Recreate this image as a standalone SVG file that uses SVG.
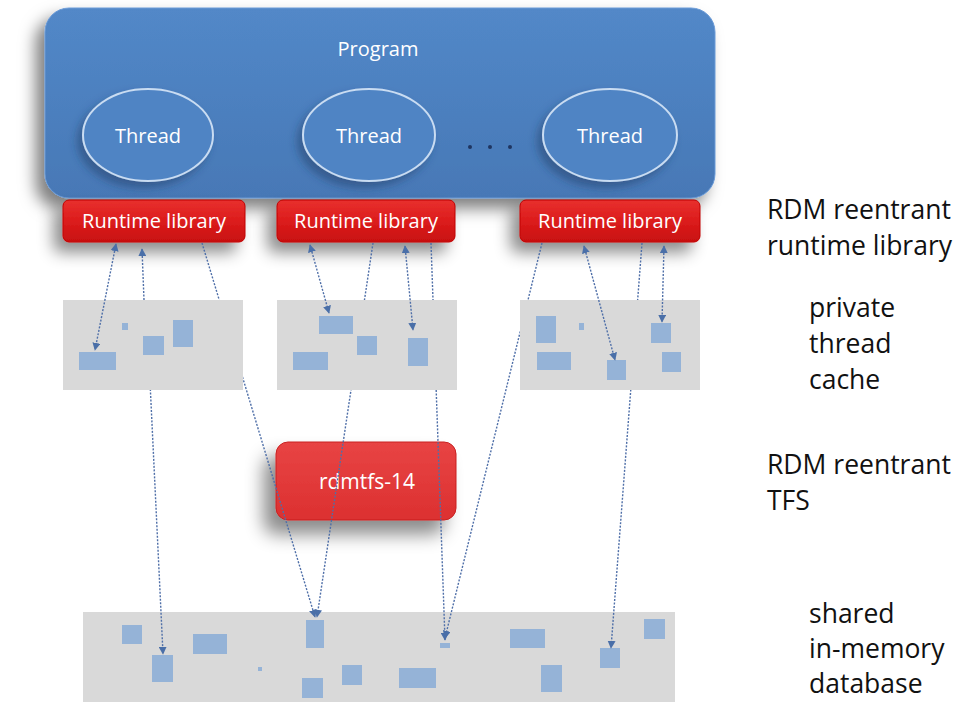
<svg xmlns="http://www.w3.org/2000/svg" width="959" height="702" viewBox="0 0 959 702">
<style>
.lbl{font-family:"Open Sans","Liberation Sans",Arial,sans-serif;fill:#ffffff;text-anchor:middle}
.side{font-family:"Open Sans","Liberation Sans",sans-serif;font-size:26.5px;fill:#111111}
.gray{fill:#d9d9d9}
.blk{fill:#95b3d7}
.con{fill:none;stroke:#4f6fa8;stroke-width:1.4;stroke-dasharray:2 1.5}
.rl{fill:url(#redg);stroke:#c00000;stroke-width:1}
</style>
<defs>
<filter id="sh" x="-20%" y="-20%" width="140%" height="160%">
<feDropShadow dx="-9" dy="10" stdDeviation="8" flood-color="#000" flood-opacity="0.5"/>
</filter>
<filter id="shr" x="-30%" y="-60%" width="160%" height="280%">
<feDropShadow dx="-9" dy="10" stdDeviation="8" flood-color="#000" flood-opacity="0.45"/>
</filter>
<filter id="sh2" x="-30%" y="-30%" width="160%" height="180%">
<feDropShadow dx="-12" dy="14" stdDeviation="9" flood-color="#000" flood-opacity="0.45"/>
</filter>
<filter id="sh3" x="-30%" y="-30%" width="160%" height="160%">
<feDropShadow dx="-5" dy="6" stdDeviation="4" flood-color="#1f3d66" flood-opacity="0.5"/>
</filter>
<linearGradient id="blueg" x1="0" y1="0" x2="0" y2="1">
<stop offset="0" stop-color="#5288c8"/>
<stop offset="1" stop-color="#4778b6"/>
</linearGradient>
<linearGradient id="redg" x1="0" y1="0" x2="0" y2="1">
<stop offset="0" stop-color="#e8302e"/>
<stop offset="0.5" stop-color="#dc1c1c"/>
<stop offset="1" stop-color="#c81010"/>
</linearGradient>
<linearGradient id="redg2" x1="0" y1="0" x2="0" y2="1">
<stop offset="0" stop-color="#e84444"/>
<stop offset="1" stop-color="#dc3030"/>
</linearGradient>
<marker id="ah" viewBox="0 0 10 10" refX="9" refY="5" markerWidth="8" markerHeight="8" markerUnits="userSpaceOnUse" orient="auto-start-reverse">
<path d="M0,0 L10,5 L0,10 z" fill="#4a6fa8"/>
</marker>
</defs>
<rect width="959" height="702" fill="#ffffff"/>

<!-- shared in-memory database -->
<g id="shared-db">
<rect class="gray" x="83" y="612" width="592" height="90"/>
<rect class="blk" x="122" y="625" width="20" height="19"/>
<rect class="blk" x="193" y="634" width="34" height="20"/>
<rect class="blk" x="152" y="655" width="21" height="27"/>
<rect class="blk" x="306" y="620" width="18" height="28"/>
<rect class="blk" x="258" y="667" width="4" height="4"/>
<rect class="blk" x="302" y="678" width="21" height="20"/>
<rect class="blk" x="342" y="665" width="20" height="20"/>
<rect class="blk" x="399" y="668" width="37" height="20"/>
<rect class="blk" x="440" y="643" width="10" height="5"/>
<rect class="blk" x="510" y="629" width="35" height="19"/>
<rect class="blk" x="644" y="619" width="21" height="20"/>
<rect class="blk" x="600" y="648" width="20" height="20"/>
<rect class="blk" x="541" y="665" width="21" height="27"/>
</g>

<!-- rdmtfs -->
<g id="rdmtfs">
<rect x="276" y="442" width="180" height="78" rx="12" fill="url(#redg2)" stroke="#c82020" filter="url(#sh2)"/>
<text class="lbl" x="367" y="489" font-size="21">rdmtfs-14</text>
</g>

<!-- program -->
<g id="program">
<rect x="45" y="8" width="670" height="190" rx="24" fill="url(#blueg)" stroke="#6a9ad6" stroke-width="1" filter="url(#sh)"/>
<text class="lbl" x="378" y="56" font-size="20">Program</text>
<circle cx="470" cy="147" r="2" fill="#1f3560"/>
<circle cx="490" cy="147" r="2" fill="#1f3560"/>
<circle cx="510" cy="147" r="2" fill="#1f3560"/>
</g>
<g id="thread1">
<ellipse cx="148" cy="135" rx="65" ry="46" fill="#4f84c4" stroke="#c9dcf2" stroke-width="2" filter="url(#sh3)"/>
<text class="lbl" x="148" y="143" font-size="20">Thread</text>
</g>
<g id="thread2">
<ellipse cx="369" cy="135" rx="66" ry="46" fill="#4f84c4" stroke="#c9dcf2" stroke-width="2" filter="url(#sh3)"/>
<text class="lbl" x="369" y="143" font-size="20">Thread</text>
</g>
<g id="thread3">
<ellipse cx="610" cy="135" rx="67" ry="46" fill="#4f84c4" stroke="#c9dcf2" stroke-width="2" filter="url(#sh3)"/>
<text class="lbl" x="610" y="143" font-size="20">Thread</text>
</g>

<!-- runtime libraries -->
<g id="rtlib1">
<rect class="rl" x="63" y="200" width="182" height="42" rx="6" filter="url(#shr)"/>
<text class="lbl" x="154" y="228" font-size="20">Runtime library</text>
</g>
<g id="rtlib2">
<rect class="rl" x="277" y="200" width="178" height="42" rx="6" filter="url(#shr)"/>
<text class="lbl" x="366" y="228" font-size="20">Runtime library</text>
</g>
<g id="rtlib3">
<rect class="rl" x="520" y="200" width="180" height="42" rx="6" filter="url(#shr)"/>
<text class="lbl" x="610" y="228" font-size="20">Runtime library</text>
</g>

<!-- connectors passing through caches -->
<g id="connectors">
<line class="con" x1="202" y1="243" x2="315" y2="617" marker-end="url(#ah)"/>
<line class="con" x1="373" y1="243" x2="317" y2="617" marker-end="url(#ah)"/>
<line class="con" x1="431" y1="243" x2="445" y2="640" marker-end="url(#ah)"/>
<line class="con" x1="542" y1="243" x2="445" y2="638" marker-end="url(#ah)"/>
<line class="con" x1="642" y1="243" x2="611" y2="648" marker-end="url(#ah)"/>
<line class="con" x1="148" y1="340" x2="163" y2="654" marker-end="url(#ah)"/>
</g>

<!-- private thread caches -->
<g id="cache1">
<rect class="gray" x="63" y="300" width="180" height="90"/>
<rect class="blk" x="79" y="352" width="37" height="18"/>
<rect class="blk" x="122" y="323" width="6" height="7"/>
<rect class="blk" x="143" y="336" width="21" height="19"/>
<rect class="blk" x="173" y="320" width="20" height="27"/>
</g>
<g id="cache2">
<rect class="gray" x="277" y="300" width="180" height="90"/>
<rect class="blk" x="319" y="316" width="34" height="18"/>
<rect class="blk" x="357" y="336" width="20" height="19"/>
<rect class="blk" x="293" y="352" width="35" height="18"/>
<rect class="blk" x="408" y="338" width="20" height="28"/>
</g>
<g id="cache3">
<rect class="gray" x="520" y="300" width="180" height="90"/>
<rect class="blk" x="536" y="316" width="20" height="27"/>
<rect class="blk" x="579" y="323" width="5" height="7"/>
<rect class="blk" x="537" y="352" width="34" height="18"/>
<rect class="blk" x="651" y="323" width="20" height="20"/>
<rect class="blk" x="607" y="360" width="19" height="20"/>
<rect class="blk" x="662" y="352" width="19" height="20"/>
</g>

<!-- local connectors -->
<g id="local-connectors">
<line class="con" x1="116" y1="244" x2="95" y2="350" marker-start="url(#ah)" marker-end="url(#ah)"/>
<line class="con" x1="144" y1="300" x2="142" y2="249" marker-end="url(#ah)"/>
<line class="con" x1="310" y1="245" x2="329" y2="313" marker-start="url(#ah)" marker-end="url(#ah)"/>
<line class="con" x1="405" y1="246" x2="413" y2="330" marker-start="url(#ah)" marker-end="url(#ah)"/>
<line class="con" x1="584" y1="246" x2="615" y2="360" marker-start="url(#ah)" marker-end="url(#ah)"/>
<line class="con" x1="664" y1="246" x2="662" y2="322" marker-start="url(#ah)" marker-end="url(#ah)"/>
</g>

<!-- side labels -->
<g id="labels">
<text class="side" x="767" y="219">RDM reentrant</text>
<text class="side" x="767" y="255">runtime library</text>
<text class="side" x="809" y="317">private</text>
<text class="side" x="809" y="353">thread</text>
<text class="side" x="809" y="389">cache</text>
<text class="side" x="767" y="474">RDM reentrant</text>
<text class="side" x="767" y="510">TFS</text>
<text class="side" x="809" y="623">shared</text>
<text class="side" x="809" y="658">in-memory</text>
<text class="side" x="809" y="693">database</text>
</g>
</svg>
